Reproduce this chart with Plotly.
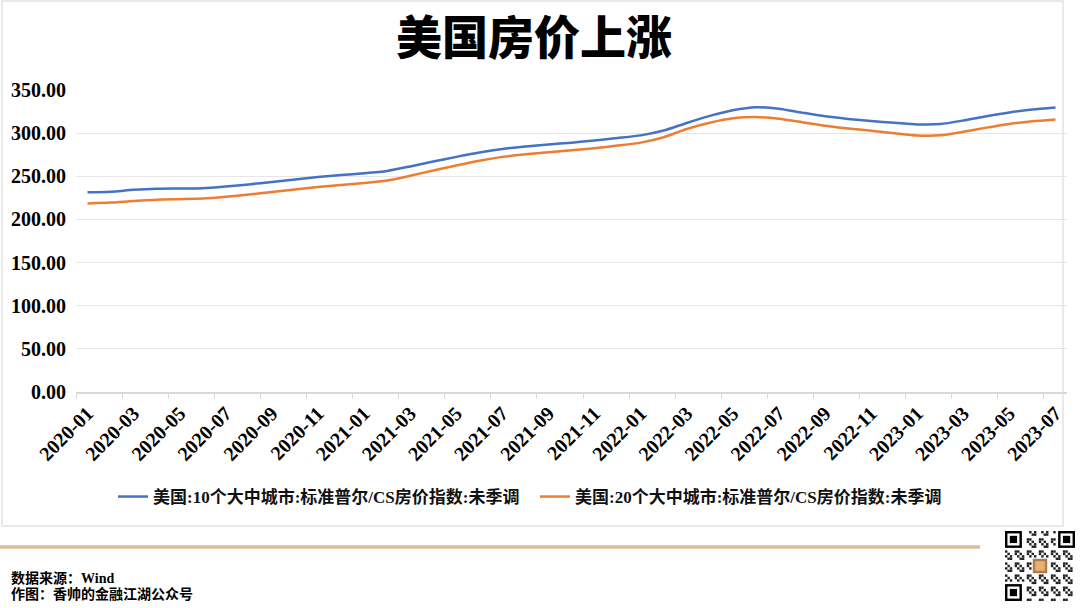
import plotly.graph_objects as go

# ---------------- data ----------------
months = [f"{y}-{m:02d}" for y in (2020, 2021, 2022, 2023) for m in range(1, 13)][:43]

city10 = [231.4, 232.2, 234.3, 235.6, 235.9, 236.2, 238.2, 240.6, 243.5, 246.4, 249.1, 251.5,
          253.5, 256.2, 261.4, 267.1, 272.5, 277.6, 281.7, 284.6, 286.8, 289.0, 291.4, 294.3,
          297.4, 303.0, 311.8, 320.0, 326.5, 330.0, 328.3, 323.8, 319.5, 316.5, 314.0, 311.9,
          310.1, 310.5, 314.6, 319.6, 324.0, 327.3, 329.8]

city20 = [218.6, 219.5, 221.4, 222.9, 223.5, 224.2, 226.3, 228.9, 231.8, 234.8, 237.6, 240.0,
          242.1, 245.0, 250.6, 256.7, 262.5, 268.1, 272.5, 275.5, 277.8, 280.2, 282.6, 285.6,
          289.0, 295.3, 304.8, 312.0, 317.2, 318.6, 316.6, 312.7, 308.6, 305.5, 302.9, 300.0,
          297.3, 297.5, 301.6, 306.4, 310.7, 313.8, 315.9]

series_names = ["美国:10个大中城市:标准普尔/CS房价指数:未季调",
                "美国:20个大中城市:标准普尔/CS房价指数:未季调"]
title_text = "美国房价上涨"
source_text = "数据来源：Wind"
author_text = "作图：香帅的金融江湖公众号"
y_ticks = [0, 50, 100, 150, 200, 250, 300, 350]

# ---------------- layout geometry ----------------
W, H = 1080, 608
L, R, T, B = 76, 13, 90, 216
PW, PH = W - L - R, H - T - B

def px(x):
    return (x - L) / PW

def py(y):
    return (H - B - y) / PH

SERIF = "Liberation Serif, Noto Sans CJK SC, serif"

fig = go.Figure()
fig.add_trace(go.Scatter(x=months, y=city10, name=series_names[0], mode="lines",
                         line=dict(color="#4472C4", width=2.5, shape="spline", smoothing=0.6)))
fig.add_trace(go.Scatter(x=months, y=city20, name=series_names[1], mode="lines",
                         line=dict(color="#ED7D31", width=2.5, shape="spline", smoothing=0.6)))

fig.update_layout(
    width=W, height=H,
    margin=dict(l=L, r=R, t=T, b=B),
    paper_bgcolor="white", plot_bgcolor="white",
    title=dict(text=title_text, x=px(534), xref="paper", xanchor="center",
               y=1 - 38 / H, yanchor="middle",
               font=dict(family="Noto Sans CJK SC", size=46, color="black", weight=900)),
    showlegend=True,
    legend=dict(orientation="h", x=px(113), xanchor="left", y=py(497), yanchor="middle",
                font=dict(family=SERIF, size=17, color="#111111", weight="bold"),
                entrywidth=377, entrywidthmode="pixels",
                itemwidth=30, tracegroupgap=0, bgcolor="rgba(0,0,0,0)"),
    xaxis=dict(type="category", tickson="boundaries", dtick=2, tickangle=-45,
               showgrid=False, showline=True, linecolor="#D9D9D9", linewidth=1.5,
               ticks="outside", ticklen=5, tickcolor="#D9D9D9", tickwidth=1,
               tickfont=dict(family=SERIF, size=20, color="black", weight="bold"),
               range=[-0.5, len(months) - 0.5]),
    yaxis=dict(range=[0, 350], tickvals=y_ticks, tickformat=".2f",
               showgrid=True, gridcolor="#E6E6E6", gridwidth=1.2,
               zeroline=False, showline=False, ticks="", ticklen=0,
               ticklabelstandoff=9,
               tickfont=dict(family=SERIF, size=20, color="black", weight="bold")),
)

shapes = []
# outer chart border
shapes.append(dict(type="rect", xref="paper", yref="paper", x0=px(2), x1=px(1063),
                   y0=py(526), y1=py(1), line=dict(color="#E2E2E2", width=1.5), layer="below"))
# tan separator
shapes.append(dict(type="line", xref="paper", yref="paper", x0=px(0), x1=px(980),
                   y0=py(547), y1=py(547), line=dict(color="#D9BC9C", width=3.5)))

# decorative QR code block
qx0, qy0, n = 1005, 531, 29
mod = 70 / n

def qr_rect(c0, r0, c1, r1, color):
    shapes.append(dict(type="rect", xref="paper", yref="paper",
                       x0=px(qx0 + c0 * mod), x1=px(qx0 + c1 * mod),
                       y0=py(qy0 + r1 * mod), y1=py(qy0 + r0 * mod),
                       fillcolor=color, line=dict(width=0)))

for (c, r) in [(0, 0), (n - 7, 0), (0, n - 7)]:
    qr_rect(c, r, c + 7, r + 7, "black")
    qr_rect(c + 1, r + 1, c + 6, r + 6, "white")
    qr_rect(c + 2, r + 2, c + 5, r + 5, "black")
for r in range(n):
    for c in range(n):
        if (r < 8 and c < 8) or (r < 8 and c >= n - 8) or (r >= n - 8 and c < 8):
            continue
        if 11 <= r <= 17 and 11 <= c <= 17:
            continue
        if ((r * 7 + c * 13 + r * c) % 5) < 2:
            qr_rect(c, r, c + 1, r + 1, "#222222")
qr_rect(11.5, 11.5, 17.5, 17.5, "#B07A4A")
qr_rect(12.5, 12.5, 16.5, 16.5, "#E8B070")

fig.update_layout(shapes=shapes)

fig.add_annotation(xref="paper", yref="paper", x=px(9), y=py(578), xanchor="left", yanchor="middle",
                   text=source_text, showarrow=False,
                   font=dict(family=SERIF, size=14, color="black", weight="bold"))
fig.add_annotation(xref="paper", yref="paper", x=px(9), y=py(594), xanchor="left", yanchor="middle",
                   text=author_text, showarrow=False,
                   font=dict(family=SERIF, size=14, color="black", weight="bold"))

fig.write_html("out.html", config={"displayModeBar": False},
               post_script="document.body.style.margin='0';document.body.style.padding='0';")
